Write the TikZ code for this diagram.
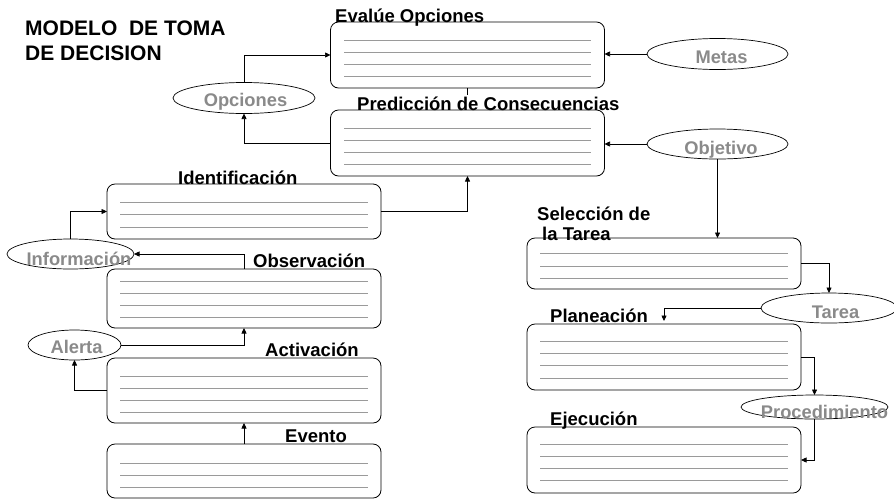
\documentclass[tikz,border=0pt]{standalone}
\usepackage{fontspec}
\setmainfont{Liberation Sans}
\usetikzlibrary{arrows.meta,shapes.geometric}
\definecolor{lblgray}{HTML}{8A8A8A}
\definecolor{rulegray}{HTML}{9A9A9A}
\begin{document}
\begin{tikzpicture}[x=1pt,y=-1pt,
  box/.style={draw=black, line width=0.8pt, rounded corners=8pt, inner sep=0pt, outer sep=0pt, minimum width=274pt},
  oval/.style={draw=black, ellipse, line width=0.7pt, inner sep=0pt, outer sep=0pt, fill=white},
  ttl/.style={font=\fontsize{18.5}{19}\selectfont\bfseries, inner sep=0pt, anchor=base west},
  lbl/.style={font=\fontsize{18.3}{19}\selectfont\bfseries, text=lblgray, inner sep=0pt, anchor=base},
  rl/.style={draw=rulegray, line width=0.9pt},
  link/.style={draw=black, line width=0.7pt},
  conn/.style={link, -{Triangle[length=5.5pt,width=5pt]}},
]
\useasboundingbox (0,0) rectangle (894,499);

% title
\node[font=\fontsize{21}{25}\selectfont\bfseries, anchor=base west, inner sep=0pt] (title1) at (25,35) {MODELO\ \ DE TOMA};
\node[font=\fontsize{21}{25}\selectfont\bfseries, anchor=base west, inner sep=0pt] (title2) at (25,60) {DE DECISION};

% boxes
\node[box, minimum height=66pt] (ev)   at (467.5,55)  {};
\node[box, minimum height=66pt] (pred) at (467.5,143) {};
\node[box, minimum height=55pt] (id)   at (244,211.5) {};
\node[box, minimum height=59pt] (obs)  at (244,298.5) {};
\node[box, minimum height=65pt] (act)  at (244,390.5) {};
\node[box, minimum height=54pt] (evt)  at (244,471)   {};
\node[box, minimum height=51pt] (sel)  at (664,263.5) {};
\node[box, minimum height=66pt] (plan) at (664,357)   {};
\node[box, minimum height=66pt] (ej)   at (664,460)   {};

% ruled lines inside boxes
\foreach \yy in {40,52,64,76}     \draw[rl] (344,\yy) -- (591,\yy);
\foreach \yy in {128,140,152,164} \draw[rl] (344,\yy) -- (591,\yy);
\foreach \yy in {202,214,227}     \draw[rl] (120,\yy) -- (368,\yy);
\foreach \yy in {281,293,305,317} \draw[rl] (120,\yy) -- (368,\yy);
\foreach \yy in {376,388,400,412} \draw[rl] (120,\yy) -- (368,\yy);
\foreach \yy in {463,475,487}     \draw[rl] (120,\yy) -- (368,\yy);
\foreach \yy in {253,266,278}     \draw[rl] (540,\yy) -- (788,\yy);
\foreach \yy in {341,353,365,378} \draw[rl] (540,\yy) -- (788,\yy);
\foreach \yy in {444,456,468,480} \draw[rl] (540,\yy) -- (788,\yy);

% ellipses
\node[oval, minimum width=142pt, minimum height=31pt] (opc)   at (244,98)    {};
\node[oval, minimum width=141pt, minimum height=31pt] (metas) at (717.5,54)  {};
\node[oval, minimum width=141pt, minimum height=30pt] (obj)   at (717.5,144) {};
\node[oval, minimum width=127pt, minimum height=30pt] (info)  at (70.5,254)  {};
\node[oval, minimum width=93pt,  minimum height=30pt] (alerta) at (74.5,345) {};
\node[oval, minimum width=136pt, minimum height=30pt] (tarea) at (829,308)   {};
\node[oval, minimum width=147pt, minimum height=24pt] (proc)  at (814.5,407) {};

% connectors
\coordinate (tick) at (467.5,95);
\draw[link] (ev.south) -- (tick);
\draw[conn] (pred.west) -| (opc.south);
\draw[conn] (opc.north) |- (ev.west);
\draw[conn] (metas.west) -- (metas.west -| ev.east);
\draw[conn] (obj.west) -- (obj.west -| pred.east);
\draw[conn] (obj.south) -- (obj.south |- sel.north);
\draw[conn] (id.east) -| (pred.south);
\draw[conn] (info.north) |- (id.west);
\draw[conn] (obs.north) |- (info.east);
\draw[conn] (alerta.east) -| (obs.south);
\draw[conn] (act.west) -| (alerta.south);
\draw[conn] (evt.north) -- (act.south);
\draw[conn] (sel.east) -| (tarea.north);
\draw[conn, shorten >=3pt] (tarea.west) -| (plan.north);
\draw[conn] (plan.east) -| (proc.north);
\draw[conn] (proc.south) |- (ej.east);

% box titles
\node[ttl] (tev)   at (335,22)  {Evalúe Opciones};
\node[ttl] (tpred) at (357,110) {Predicción de Consecuencias};
\node[ttl] (tid)   at (178,184) {Identificación};
\node[ttl] (tobs)  at (253,267) {Observación};
\node[ttl] (tact)  at (265,356) {Activación};
\node[ttl] (tevt)  at (285,442) {Evento};
\node[ttl] (tsel1) at (537,220) {Selección de};
\node[ttl] (tsel2) at (542,240) {la Tarea};
\node[ttl] (tplan) at (550,322) {Planeación};
\node[ttl] (tej)   at (550,425) {Ejecución};

% ellipse labels
\node[lbl] (lopc)   at (245.5,106) {Opciones};
\node[lbl] (lmetas) at (721.5,63)  {Metas};
\node[lbl] (lobj)   at (721,154)   {Objetivo};
\node[lbl] (linfo)  at (79,265)    {Información};
\node[lbl] (lalert) at (76.5,353)  {Alerta};
\node[lbl] (ltarea) at (835.5,318) {Tarea};
\node[lbl] (lproc)  at (824.5,418) {Procedimiento};
\end{tikzpicture}
\end{document}
